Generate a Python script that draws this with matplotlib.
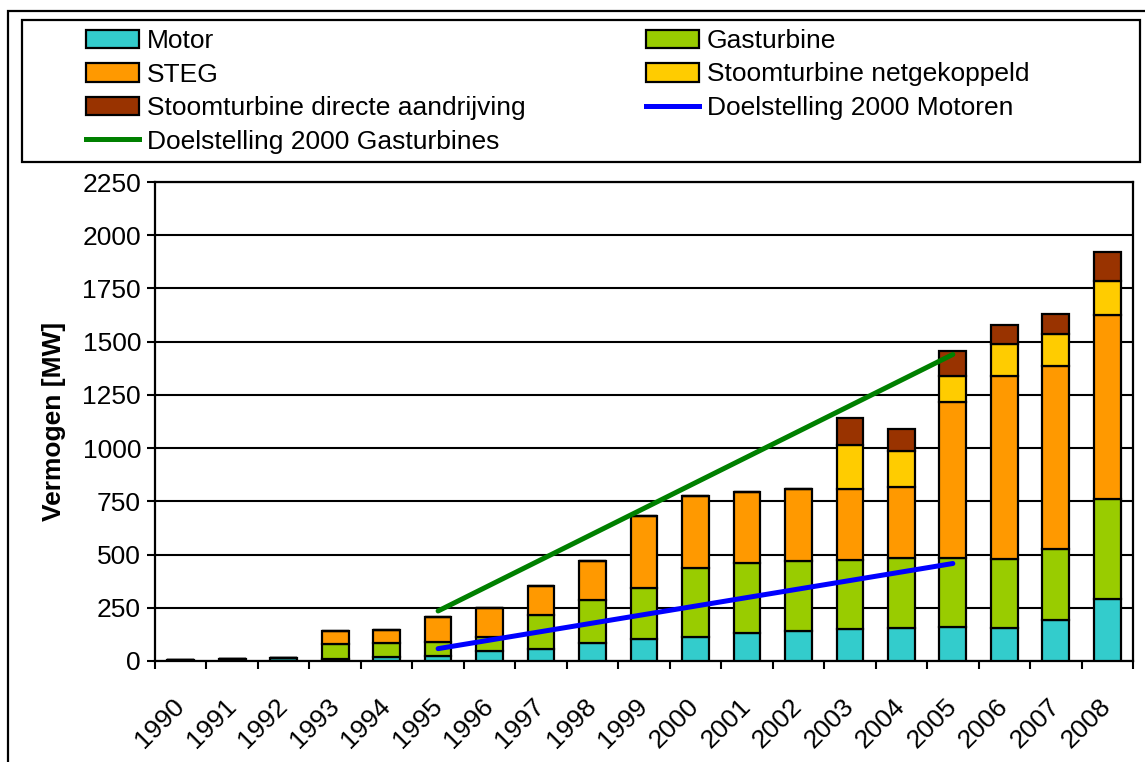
import numpy as np
import matplotlib
matplotlib.use("Agg")
import matplotlib.pyplot as plt
from matplotlib.patches import Rectangle, Patch
from matplotlib.lines import Line2D

# Gegevens
jaren = [1990, 1991, 1992, 1993, 1994, 1995, 1996, 1997, 1998, 1999,
         2000, 2001, 2002, 2003, 2004, 2005, 2006, 2007, 2008]
motor = [5, 8, 12, 10, 20, 25, 48, 58, 86, 102,
         113, 130, 142, 150, 156, 158, 156, 192, 291]
gasturbine = [0, 0, 0, 70, 66, 64, 66, 158, 200, 239,
              326, 328, 328, 324, 326, 326, 321, 332, 472]
steg = [0, 0, 0, 60, 61, 118, 136, 136, 186, 339,
        336, 335, 338, 336, 335, 731, 864, 864, 864]
stoom_net = [0, 0, 0, 0, 0, 0, 0, 0, 0, 0,
             0, 0, 0, 203, 168, 126, 146, 149, 157]
stoom_direct = [0, 0, 0, 0, 0, 0, 0, 0, 0, 0,
                0, 0, 0, 128, 106, 113, 92, 94, 136]

doel_jaren = [1995, 2005]
doel_gasturbines = [235, 1440]
doel_motoren = [58, 458]

plt.rcParams.update({"font.family": "Liberation Sans",
                     "font.size": 19})

fig = plt.figure(figsize=(11.45, 7.62), dpi=100)
W, H = 1145.0, 762.0
ax = fig.add_axes([155 / W, 1 - 661 / H, (1133 - 155) / W, (661 - 182) / H])

x = np.arange(len(jaren))
breedte = 0.52
series = [(motor, "#33CCCC", "Motor"),
          (gasturbine, "#99CC00", "Gasturbine"),
          (steg, "#FF9900", "STEG"),
          (stoom_net, "#FFCC00", "Stoomturbine netgekoppeld"),
          (stoom_direct, "#993300", "Stoomturbine directe aandrijving")]

onder = np.zeros(len(jaren))
for waarden, kleur, naam in series:
    waarden = np.array(waarden, dtype=float)
    ax.bar(x, waarden, breedte, bottom=onder, color=kleur,
           edgecolor="black", linewidth=1.6, zorder=3)
    onder += waarden

xd = [jaren.index(j) for j in doel_jaren]
ax.plot(xd, doel_gasturbines, color="#008000", linewidth=3.6,
        solid_capstyle="round", zorder=4)
ax.plot(xd, doel_motoren, color="#0000FF", linewidth=3.6,
        solid_capstyle="round", zorder=4)

ax.set_xlim(-0.5, len(jaren) - 0.5)
ax.set_ylim(0, 2250)
ax.set_yticks(np.arange(0, 2251, 250))
ax.yaxis.grid(True, color="black", linewidth=1.5, zorder=0)
ax.set_axisbelow(True)
ax.tick_params(axis="y", direction="out", length=6, width=1.5, pad=4)

ax.set_xticks(x)
ax.set_xticklabels([str(j) for j in jaren], rotation=45, ha="right",
                   va="center", rotation_mode="anchor")
ax.tick_params(axis="x", which="major", length=0, pad=30)
ax.set_xticks(np.arange(-0.5, len(jaren), 1), minor=True)
ax.tick_params(axis="x", which="minor", direction="out", length=6, width=1.5)

for s in ax.spines.values():
    s.set_linewidth(1.6)

ax.set_ylabel("Vermogen [MW]", fontweight="bold", labelpad=12)

# Legenda in twee kolommen
hand = {naam: Patch(facecolor=kleur, edgecolor="black", linewidth=1.6)
        for _, kleur, naam in series}
lijn_gas = Line2D([], [], color="#008000", linewidth=3.6)
lijn_mot = Line2D([], [], color="#0000FF", linewidth=3.6)

kol1 = [hand["Motor"], hand["STEG"], hand["Stoomturbine directe aandrijving"], lijn_gas]
lab1 = ["Motor", "STEG", "Stoomturbine directe aandrijving", "Doelstelling 2000 Gasturbines"]
kol2 = [hand["Gasturbine"], hand["Stoomturbine netgekoppeld"], lijn_mot]
lab2 = ["Gasturbine", "Stoomturbine netgekoppeld", "Doelstelling 2000 Motoren"]

opts = dict(loc="upper left", frameon=False, borderpad=0, borderaxespad=0,
            handlelength=2.0, handletextpad=0.3, labelspacing=0.36,
            handleheight=0.7)
fig.legend(kol1, lab1, bbox_to_anchor=(86 / W, 1 - 29 / H), **opts)
fig.legend(kol2, lab2, bbox_to_anchor=(646 / W, 1 - 29 / H), **opts)

fig.add_artist(Rectangle((22 / W, 1 - 162 / H), (1140 - 22) / W, (162 - 20) / H,
                         transform=fig.transFigure, fill=False,
                         edgecolor="black", linewidth=1.6))
fig.add_artist(Rectangle((8 / W, -0.05), 1.1, 1 - 11 / H + 0.05,
                         transform=fig.transFigure, fill=False,
                         edgecolor="black", linewidth=1.6, clip_on=False))

fig.savefig("out.png", dpi=100)
